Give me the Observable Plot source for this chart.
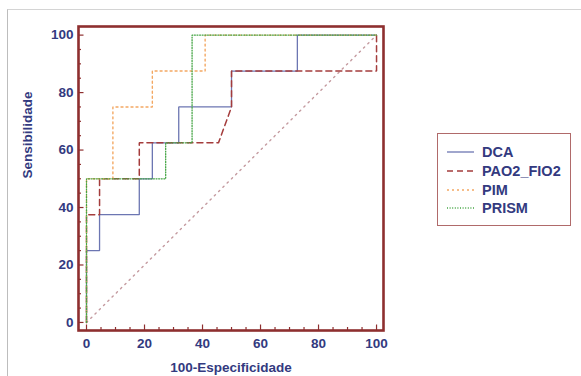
<!DOCTYPE html>
<html>
<head>
<meta charset="utf-8">
<script src="https://cdn.jsdelivr.net/npm/d3@7"></script>
<script src="https://cdn.jsdelivr.net/npm/@observablehq/plot@0.6"></script>
<style>
  html, body { margin: 0; padding: 0; background: #fff; }
  #wrap { position: relative; width: 581px; height: 376px; overflow: hidden; font-family: "Liberation Sans", Arial, sans-serif; }
  #border { position: absolute; left: 7px; top: 9px; width: 600px; height: 400px; border-top: 1px solid #d4d4d4; border-left: 1px solid #bdbdbd; }
  #chart { position: absolute; left: 0; top: 0; }
  #legend { position: absolute; left: 437px; top: 133px; width: 134px; height: 93px; border: 1px solid #b06a6a; box-sizing: border-box; }
  .row { position: absolute; left: 0; height: 18px; display: flex; align-items: center; }
  .row svg { margin-left: 9px; }
  .row span { margin-left: 8px; font-weight: bold; font-size: 14.5px; color: #333a80; }
</style>
</head>
<body>
<div id="wrap">
  <div id="border"></div>
  <div id="chart"></div>
  <div id="legend"></div>
</div>
<script>
// Series names and styles
const seriesNames = ["DCA", "PAO2_FIO2", "PIM", "PRISM"];
const seriesColors = ["#6c76b2", "#a43c3c", "#f3a863", "#45a545"];
const seriesDash = [null, "6,4", "2,3", "1,1.6"];
const seriesWidth = [1.3, 1.5, 1.4, 1.3];

// ROC curve vertices (100-Especificidade, Sensibilidade)
const dcaX = [0, 0, 4.5, 4.5, 18.2, 18.2, 22.7, 22.7, 31.8, 31.8, 50, 50, 72.7, 72.7, 100];
const dcaY = [0, 25, 25, 37.5, 37.5, 50, 50, 62.5, 62.5, 75, 75, 87.5, 87.5, 100, 100];

const paoX = [0, 0, 4.5, 4.5, 18.2, 18.2, 45.5, 50, 50, 100, 100];
const paoY = [0, 37.5, 37.5, 50, 50, 62.5, 62.5, 75, 87.5, 87.5, 100];

const pimX = [0, 0, 9.1, 9.1, 22.7, 22.7, 40.9, 40.9, 100];
const pimY = [0, 50, 50, 75, 75, 87.5, 87.5, 100, 100];

const prismX = [0, 0, 27.3, 27.3, 36.4, 36.4, 100];
const prismY = [0, 50, 50, 62.5, 62.5, 100, 100];

const refX = [0, 100];
const refY = [0, 100];

const tickLabels = [0, 20, 40, 60, 80, 100];
const minorTicks = d3.range(0, 101, 5);

const xDomain = [-2.76, 102.4];
const yDomain = [-2.8, 103];

const toPts = (xs, ys) => xs.map((x, i) => ({x, y: ys[i]}));
const seriesPts = [toPts(dcaX, dcaY), toPts(paoX, paoY), toPts(pimX, pimY), toPts(prismX, prismY)];

const frameColor = "#8e2f2f";
const pxX = (383 - 78) / (xDomain[1] - xDomain[0]);
const pxY = (330 - 26) / (yDomain[1] - yDomain[0]);

const marks = [
  Plot.line(toPts(refX, refY), {x: "x", y: "y", stroke: "#c49a9f", strokeWidth: 1.4, strokeDasharray: "1.5,4.5"}),
  ...seriesPts.map((pts, i) => Plot.line(pts, {
    x: "x", y: "y", stroke: seriesColors[i], strokeWidth: seriesWidth[i],
    strokeDasharray: seriesDash[i] || undefined, strokeLinejoin: "miter"
  })),
  // inward ticks on bottom frame
  Plot.ruleX(minorTicks, {x: d => d, y1: yDomain[0], y2: d => yDomain[0] + (d % 20 === 0 ? 5.5 : 3) / pxY, stroke: frameColor, strokeWidth: 1.2}),
  // inward ticks on left frame
  Plot.ruleY(minorTicks, {y: d => d, x1: xDomain[0], x2: d => xDomain[0] + (d % 20 === 0 ? 5.5 : 3) / pxX, stroke: frameColor, strokeWidth: 1.2}),
  Plot.frame({stroke: frameColor, strokeWidth: 2.6}),
  Plot.text(["100-Especificidade"], {text: d => d, frameAnchor: "bottom", dy: 37, lineAnchor: "middle", fontSize: 13.5, fontWeight: "bold", fill: "#333a80"}),
  Plot.text(["Sensibilidade"], {text: d => d, frameAnchor: "left", dx: -51, rotate: -90, lineAnchor: "middle", fontSize: 13.5, fontWeight: "bold", fill: "#333a80"})
];

const chart = Plot.plot({
  width: 581,
  height: 376,
  marginLeft: 78,
  marginRight: 198,
  marginTop: 26,
  marginBottom: 46,
  style: {fontFamily: "'Liberation Sans', Arial, sans-serif", fontSize: "13.5px", fontWeight: "bold", color: "#333a80", background: "transparent", overflow: "visible"},
  x: {domain: xDomain, ticks: tickLabels, tickSize: 0, tickPadding: 8, label: null},
  y: {domain: yDomain, ticks: tickLabels, tickSize: 0, tickPadding: 5, label: null},
  marks
});
document.getElementById("chart").appendChild(chart);

// Legend
const legend = document.getElementById("legend");
const rowTops = [9, 28, 47, 65];
seriesNames.forEach((name, i) => {
  const row = document.createElement("div");
  row.className = "row";
  row.style.top = rowTops[i] + "px";
  const svg = d3.create("svg").attr("width", 27).attr("height", 10);
  svg.append("line").attr("x1", 0).attr("x2", 27).attr("y1", 5).attr("y2", 5)
    .attr("stroke", seriesColors[i]).attr("stroke-width", seriesWidth[i])
    .attr("stroke-dasharray", seriesDash[i]);
  row.appendChild(svg.node());
  const span = document.createElement("span");
  span.textContent = name;
  row.appendChild(span);
  legend.appendChild(row);
});
</script>
</body>
</html>
